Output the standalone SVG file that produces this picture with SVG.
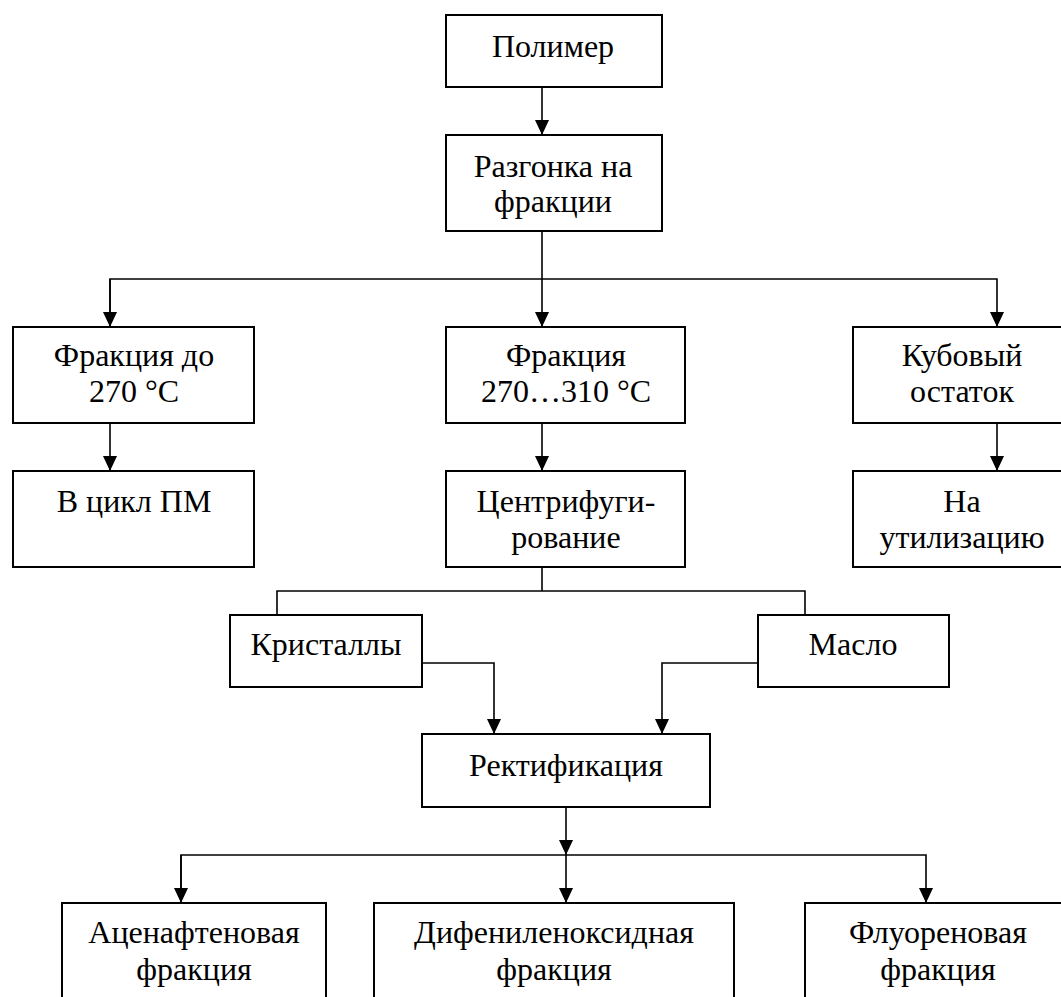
<svg xmlns="http://www.w3.org/2000/svg" width="1061" height="997" viewBox="0 0 1061 997">
<style>
.box{fill:#fff;stroke:#000;stroke-width:2}
.ln{fill:none;stroke:#000;stroke-width:1.6}
.t{font-family:"Liberation Serif","Times New Roman",serif;font-size:32px;fill:#000;text-anchor:middle}
</style>
<defs>
<marker id="ah" viewBox="0 0 15 14" refX="15" refY="7" markerWidth="15" markerHeight="14" markerUnits="userSpaceOnUse" orient="auto">
<path d="M0,0 L15,7 L0,14 z" fill="#000"/>
</marker>
</defs>
<rect width="1061" height="997" fill="#fff"/>
<g id="connectors">
<line class="ln" x1="542" y1="87" x2="542" y2="135" marker-end="url(#ah)"/>
<line class="ln" x1="542" y1="231" x2="542" y2="327" marker-end="url(#ah)"/>
<polyline class="ln" points="110,327 110,279 997,279 997,327" marker-end="url(#ah)"/>
<line class="ln" x1="110" y1="279" x2="110" y2="327" marker-end="url(#ah)"/>
<line class="ln" x1="110" y1="423" x2="110" y2="471" marker-end="url(#ah)"/>
<line class="ln" x1="542" y1="423" x2="542" y2="471" marker-end="url(#ah)"/>
<line class="ln" x1="997" y1="423" x2="997" y2="471" marker-end="url(#ah)"/>
<line class="ln" x1="542" y1="567" x2="542" y2="591"/>
<polyline class="ln" points="277,615 277,591 805,591 805,615"/>
<polyline class="ln" points="422,663 494,663 494,734" marker-end="url(#ah)"/>
<polyline class="ln" points="758,663 662,663 662,734" marker-end="url(#ah)"/>
<line class="ln" x1="566" y1="807" x2="566" y2="855" marker-end="url(#ah)"/>
<polyline class="ln" points="181,903 181,855 926,855 926,903" marker-end="url(#ah)"/>
<line class="ln" x1="181" y1="855" x2="181" y2="903" marker-end="url(#ah)"/>
<line class="ln" x1="566" y1="855" x2="566" y2="903" marker-end="url(#ah)"/>
</g>
<g id="n-polimer"><rect class="box" x="446" y="15" width="216" height="72"/><text class="t" x="553" y="57">Полимер</text></g>
<g id="n-razgonka"><rect class="box" x="446" y="135" width="216" height="96"/><text class="t" x="553" y="177">Разгонка на</text><text class="t" x="553" y="212">фракции</text></g>
<g id="n-frac270"><rect class="box" x="13" y="327" width="241" height="96"/><text class="t" x="134" y="366">Фракция до</text><text class="t" x="134" y="402">270 °C</text></g>
<g id="n-frac270310"><rect class="box" x="446" y="327" width="239" height="96"/><text class="t" x="566" y="366">Фракция</text><text class="t" x="566" y="402">270…310 °C</text></g>
<g id="n-kub"><rect class="box" x="853" y="327" width="218" height="96"/><text class="t" x="962" y="366">Кубовый</text><text class="t" x="962" y="402">остаток</text></g>
<g id="n-cikl"><rect class="box" x="13" y="471" width="241" height="96"/><text class="t" x="134" y="512">В цикл ПМ</text></g>
<g id="n-centr"><rect class="box" x="446" y="471" width="239" height="96"/><text class="t" x="566" y="512">Центрифуги-</text><text class="t" x="566" y="548">рование</text></g>
<g id="n-util"><rect class="box" x="853" y="471" width="218" height="96"/><text class="t" x="962" y="512">На</text><text class="t" x="962" y="548">утилизацию</text></g>
<g id="n-krist"><rect class="box" x="230" y="615" width="192" height="72"/><text class="t" x="326" y="655">Кристаллы</text></g>
<g id="n-maslo"><rect class="box" x="758" y="615" width="191" height="72"/><text class="t" x="853" y="655">Масло</text></g>
<g id="n-rekt"><rect class="box" x="422" y="734" width="288" height="73"/><text class="t" x="566" y="776">Ректификация</text></g>
<g id="n-acen"><rect class="box" x="62" y="903" width="264" height="110"/><text class="t" x="194" y="943">Аценафтеновая</text><text class="t" x="194" y="980">фракция</text></g>
<g id="n-difen"><rect class="box" x="374" y="903" width="360" height="110"/><text class="t" x="554" y="943">Дифениленоксидная</text><text class="t" x="554" y="980">фракция</text></g>
<g id="n-fluor"><rect class="box" x="805" y="903" width="266" height="110"/><text class="t" x="938" y="943">Флуореновая</text><text class="t" x="938" y="980">фракция</text></g>
</svg>
